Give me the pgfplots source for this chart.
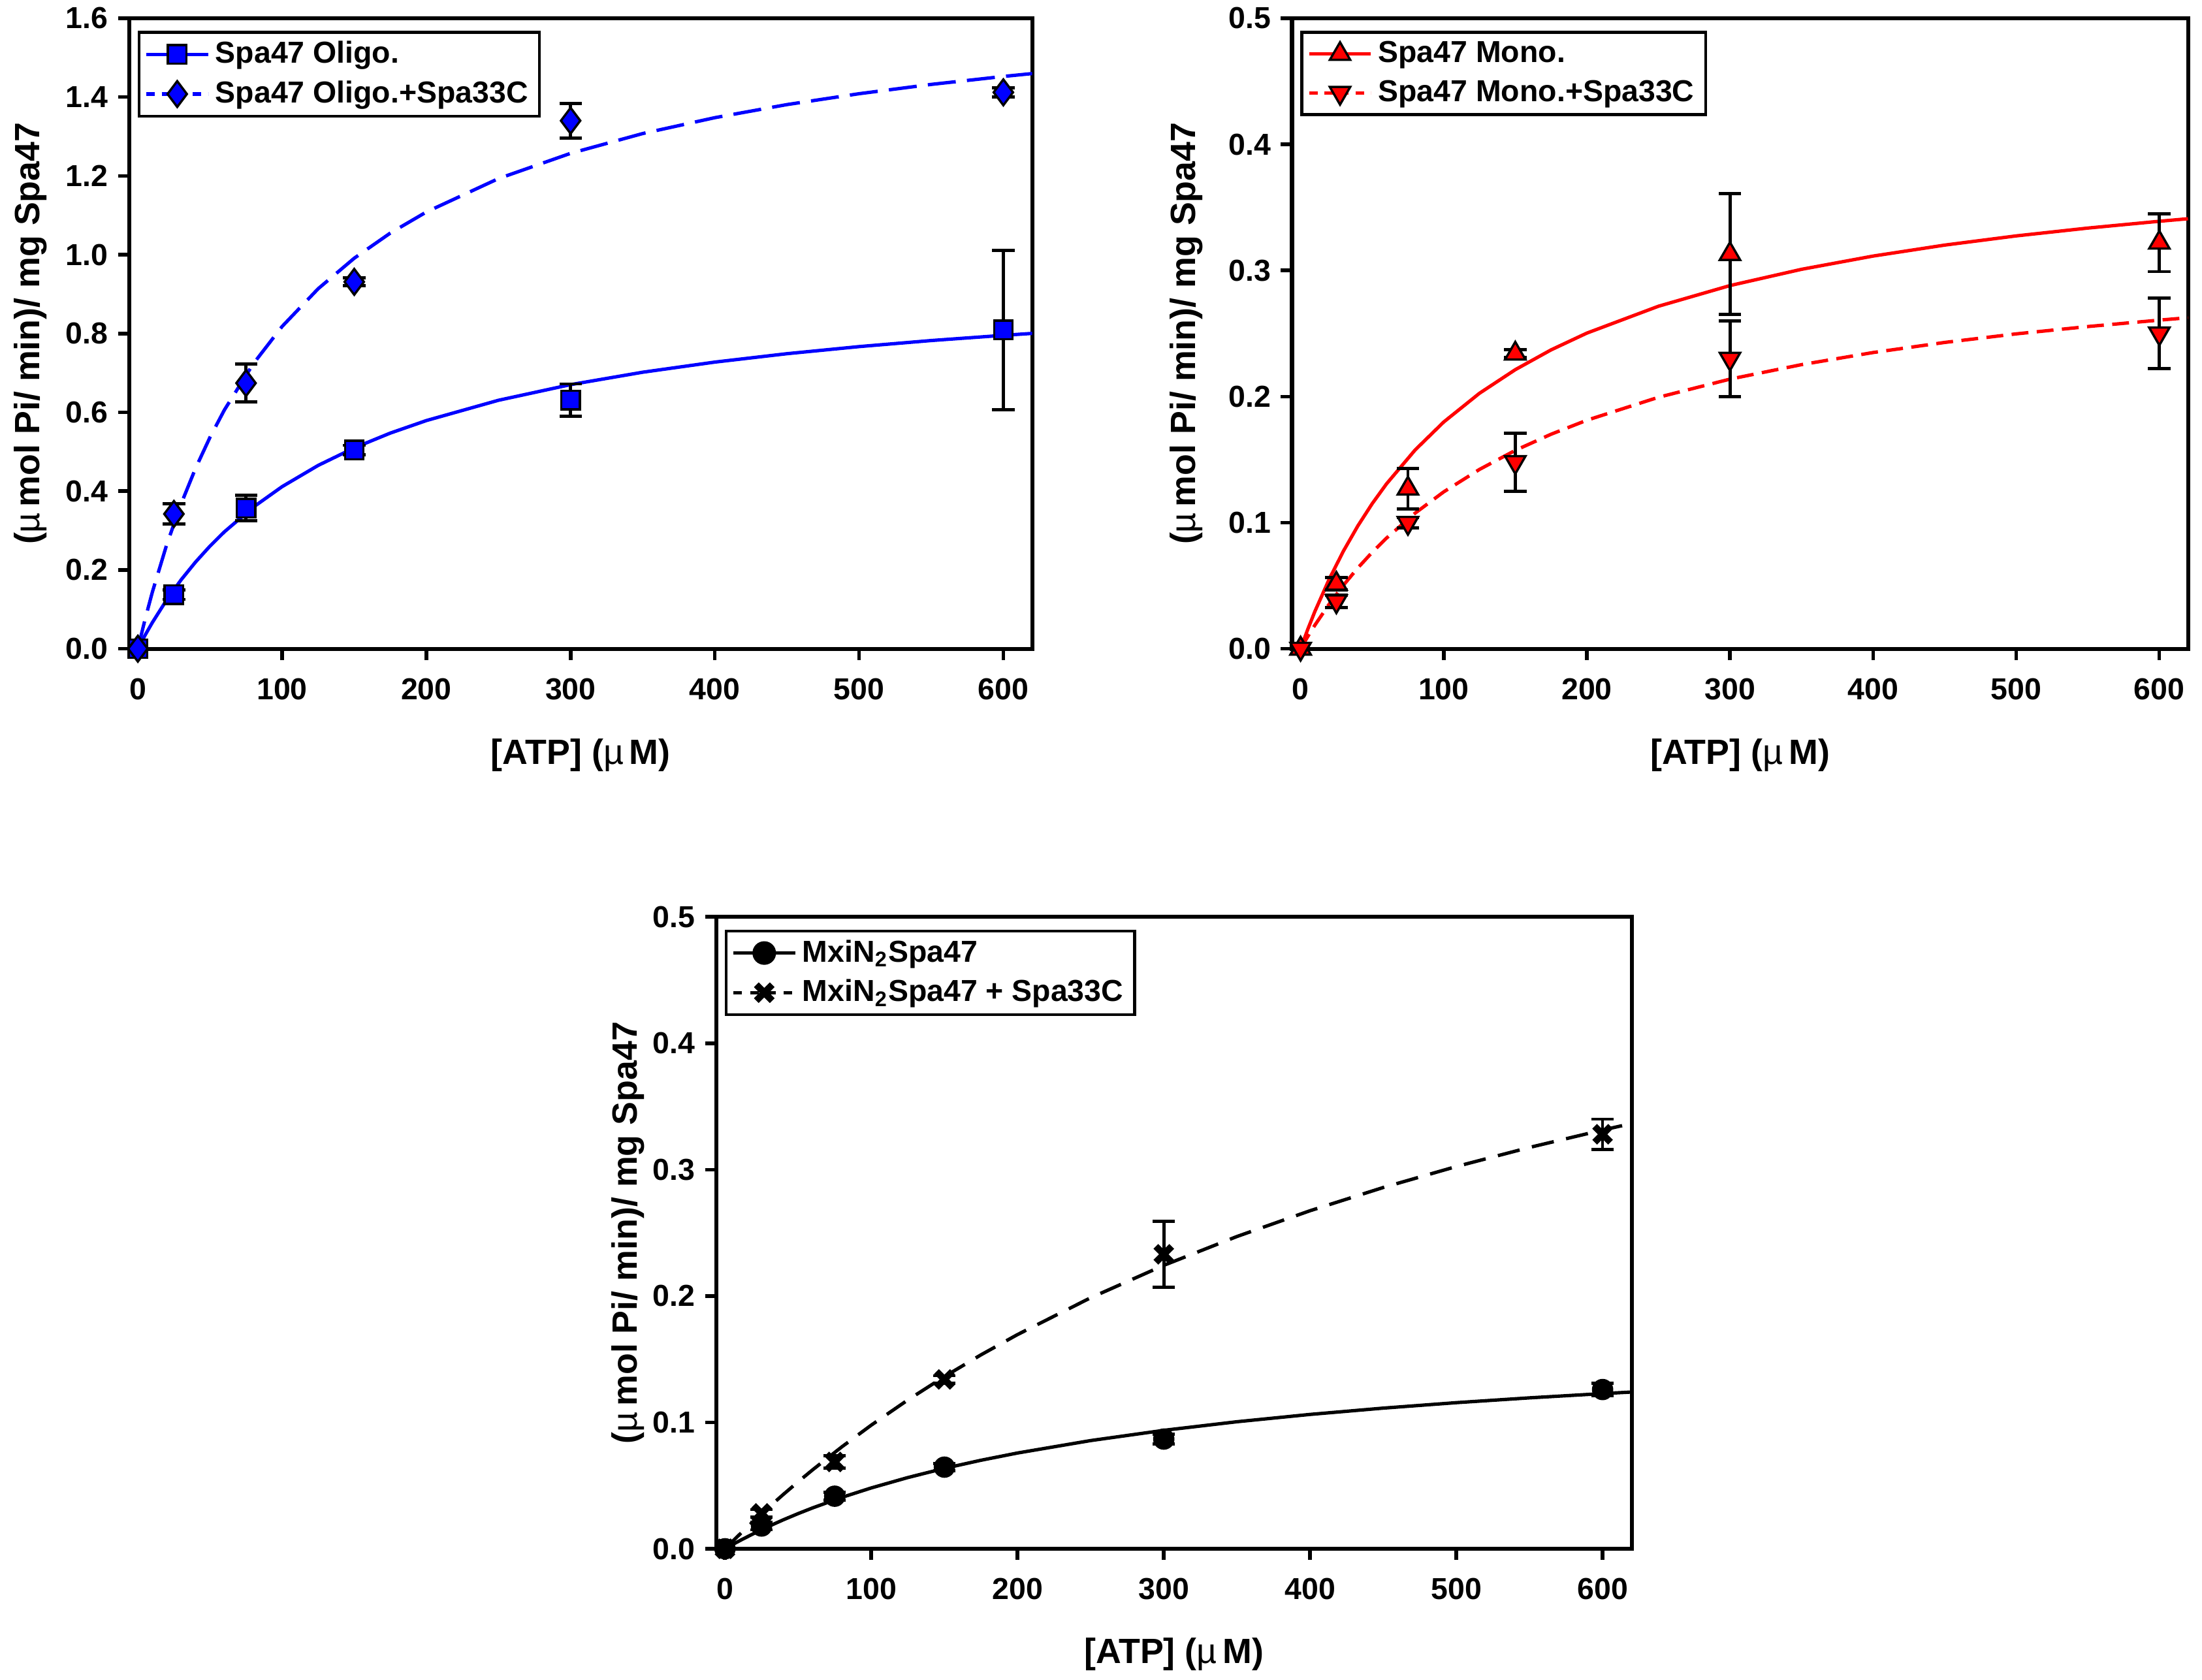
\documentclass[border=0pt]{standalone}
\usepackage{fontspec}
\setmainfont{Liberation Sans}
\usepackage{pgfplots}
\pgfplotsset{compat=1.18}
\usetikzlibrary{plotmarks}

\pgfplotsset{
 kin/.style={
  scale only axis,
  xmin=-6, xmax=620,
  xtick={0,100,...,600},
  tick align=outside,
  xtick pos=left, ytick pos=left,
  major tick length=4pt,
  axis line style={line width=1.4pt},
  every tick/.style={black, line width=1.3pt},
  tick label style={font=\fontsize{10.8}{12}\selectfont\bfseries},
  xticklabel style={yshift=-3pt},
  /pgf/number format/assume math mode=true,
  label style={font=\fontsize{12.5}{15}\selectfont\bfseries},
  xlabel={[ATP] ({\mdseries µ}\,M)},
  ylabel={({\mdseries µ}\,mol Pi/ min)/ mg Spa47},
  xlabel style={at={(axis description cs:0.5,-0.169)}, anchor=center},
  yticklabel style={/pgf/number format/.cd, fixed, fixed zerofill, precision=1},
  legend style={font=\fontsize{10.8}{12}\selectfont\bfseries, draw=black, line width=1pt,
     anchor=north west, at={(0,1)}, xshift=3pt, yshift=-4.5pt,
     inner xsep=2pt, inner ysep=1.2pt, row sep=0.8pt, cells={anchor=west}},
  legend image code/.code={\draw[mark repeat=2,mark phase=2,#1] plot coordinates {(0pt,0pt) (11pt,0pt) (22pt,0pt)};},
 },
 eb/.style={error bars/.cd, y dir=both, y explicit,
   error bar style={black, line width=1.1pt, solid},
   error mark options={black, line width=1.1pt, mark size=4pt, solid, rotate=90}},
}

\begin{document}
\begin{tikzpicture}
\useasboundingbox (0,0) rectangle (784pt,598pt);

% ---------------- Panel 1 ----------------
\begin{axis}[kin, at={(46pt,367pt)}, anchor=south west,
  width=321.5pt, height=224.5pt,
  ymin=0, ymax=1.6, ytick={0,0.2,...,1.6},
  ylabel style={at={(axis description cs:-0.109,0.5)}, anchor=center}]
\addlegendimage{blue, line width=1.2pt, mark=square*, mark size=3.3pt, mark options={fill=blue, draw=black, line width=0.8pt}}
\addlegendentry{Spa47 Oligo.}
\addlegendimage{blue, line width=1.2pt, dash pattern=on 3pt off 2.5pt, mark=diamond*, mark size=4.6pt, mark options={solid, fill=blue, draw=black, line width=0.8pt}}
\addlegendentry{Spa47 Oligo.+Spa33C}
\addplot[blue, line width=1.2pt, forget plot] coordinates {
(0,0) (5,0.0342) (10,0.0662) (20,0.1240) (30,0.1749) (40,0.2200) (50,0.2604) (60,0.2967)
(80,0.3592) (100,0.4113) (125,0.4652) (150,0.5097) (175,0.5472) (200,0.5790) (250,0.6305)
(300,0.6702) (350,0.7017) (400,0.7274) (450,0.7487) (500,0.7667) (550,0.7821) (600,0.7953) (620,0.8002)};
\addplot[blue, line width=1.2pt, dash pattern=on 10pt off 4pt, forget plot] coordinates {
(0,0) (5,0.0746) (10,0.1430) (20,0.2641) (30,0.3678) (40,0.4578) (50,0.5365) (60,0.6060)
(80,0.7230) (100,0.8178) (125,0.9136) (150,0.9910) (175,1.0548) (200,1.1083) (250,1.1931)
(300,1.2572) (350,1.3074) (400,1.3477) (450,1.3809) (500,1.4085) (550,1.4321) (600,1.4523) (620,1.4596)};
\addplot[only marks, mark=square*, mark size=3.3pt, mark options={fill=blue, draw=black, line width=0.8pt}, forget plot,
  eb] table[x=x, y=y, y error=e] {
x y e
0 0 0
25 0.137 0.012
75 0.357 0.032
150 0.504 0.012
300 0.631 0.041
600 0.809 0.202
};
\addplot[only marks, mark=diamond*, mark size=4.6pt, mark options={fill=blue, draw=black, line width=0.8pt}, forget plot,
  eb] table[x=x, y=y, y error=e] {
x y e
0 0 0
25 0.342 0.026
75 0.674 0.048
150 0.931 0.010
300 1.340 0.044
600 1.412 0.012
};
\end{axis}

% ---------------- Panel 2 ----------------
\begin{axis}[kin, at={(460pt,367pt)}, anchor=south west,
  width=319pt, height=224.5pt,
  ymin=0, ymax=0.5, ytick={0,0.1,...,0.5},
  ylabel style={at={(axis description cs:-0.1176,0.5)}, anchor=center}]
\addlegendimage{red, line width=1.2pt, mark=triangle*, mark size=4.2pt, mark options={fill=red, draw=black, line width=0.8pt}}
\addlegendentry{Spa47 Mono.}
\addlegendimage{red, line width=1.2pt, dash pattern=on 3pt off 2.5pt, mark=triangle*, mark size=4.2pt, mark options={solid, rotate=180, fill=red, draw=black, line width=0.8pt}}
\addlegendentry{Spa47 Mono.+Spa33C}
\addplot[red, line width=1.2pt, forget plot] coordinates {
(0,0) (5,0.01535) (10,0.0296) (20,0.0552) (30,0.0776) (40,0.0974) (50,0.1150) (60,0.1307)
(80,0.1576) (100,0.1798) (125,0.2026) (150,0.2213) (175,0.2370) (200,0.2503) (250,0.2716)
(300,0.2880) (350,0.3009) (400,0.3114) (450,0.3201) (500,0.3274) (550,0.3336) (600,0.3390) (620,0.3410)};
\addplot[red, line width=1.2pt, dash pattern=on 6pt off 3pt, forget plot] coordinates {
(0,0) (5,0.00963) (10,0.01872) (20,0.03544) (30,0.05048) (40,0.06408) (50,0.07643) (60,0.0877)
(80,0.1075) (100,0.1244) (125,0.1422) (150,0.1573) (175,0.1701) (200,0.1812) (250,0.1994)
(300,0.2138) (350,0.2253) (400,0.2349) (450,0.2429) (500,0.2497) (550,0.2555) (600,0.2606) (620,0.2625)};
\addplot[only marks, mark=triangle*, mark size=4.2pt, mark options={fill=red, draw=black, line width=0.8pt}, forget plot,
  eb] table[x=x, y=y, y error=e] {
x y e
0 0 0
25 0.0515 0.005
75 0.127 0.016
150 0.234 0.003
300 0.313 0.048
600 0.322 0.023
};
\addplot[only marks, mark=triangle*, mark size=4.2pt, mark options={rotate=180, fill=red, draw=black, line width=0.8pt}, forget plot,
  eb] table[x=x, y=y, y error=e] {
x y e
0 0 0
25 0.0376 0.005
75 0.0998 0.004
150 0.148 0.023
300 0.230 0.030
600 0.250 0.028
};
\end{axis}

% ---------------- Panel 3 ----------------
\begin{axis}[kin, at={(255pt,46.5pt)}, anchor=south west,
  width=326pt, height=225pt,
  ymin=0, ymax=0.5, ytick={0,0.1,...,0.5},
  xlabel style={at={(axis description cs:0.5,-0.167)}, anchor=center},
  ylabel style={at={(axis description cs:-0.0966,0.5)}, anchor=center}]
\addlegendimage{black, line width=1.2pt, mark=*, mark size=3.6pt, mark options={fill=black, draw=black}}
\addlegendentry{MxiN\textsubscript{2}Spa47}
\addlegendimage{black, line width=1.2pt, dash pattern=on 3pt off 3pt, mark=x, mark size=4pt, mark options={solid, line width=2.4pt}}
\addlegendentry{MxiN\textsubscript{2}Spa47 + Spa33C}
\addplot[black, line width=1.2pt, forget plot] coordinates {
(0,0) (5,0.00324) (10,0.00636) (20,0.01229) (30,0.01782) (40,0.02299) (50,0.02784) (60,0.03239)
(80,0.04072) (100,0.04815) (125,0.05637) (150,0.06362) (175,0.07005) (200,0.07579) (250,0.08563)
(300,0.09373) (350,0.10053) (400,0.10632) (450,0.11130) (500,0.11563) (550,0.11943) (600,0.12280) (620,0.12404)};
\addplot[black, line width=1.2pt, dash pattern=on 8pt off 4.5pt, forget plot] coordinates {
(0,0) (5,0.00573) (10,0.01136) (20,0.02232) (30,0.03291) (40,0.04313) (50,0.05301) (60,0.06257)
(80,0.08076) (100,0.09784) (125,0.11776) (150,0.13625) (175,0.15346) (200,0.16952) (250,0.19862)
(300,0.22429) (350,0.24710) (400,0.26751) (450,0.28587) (500,0.30248) (550,0.31758) (600,0.33136) (620,0.33654)};
\addplot[only marks, mark=*, mark size=3.6pt, mark options={fill=black, draw=black}, forget plot,
  eb] table[x=x, y=y, y error=e] {
x y e
0 0 0
25 0.018 0.003
75 0.0416 0.003
150 0.0646 0.003
300 0.0868 0.004
600 0.126 0.005
};
\addplot[only marks, mark=x, mark size=4pt, mark options={black, line width=2.4pt}, forget plot,
  eb] table[x=x, y=y, y error=e] {
x y e
0 0 0
25 0.028 0.003
75 0.0687 0.005
150 0.134 0.003
300 0.233 0.026
600 0.328 0.012
};
\end{axis}
\end{tikzpicture}
\end{document}
